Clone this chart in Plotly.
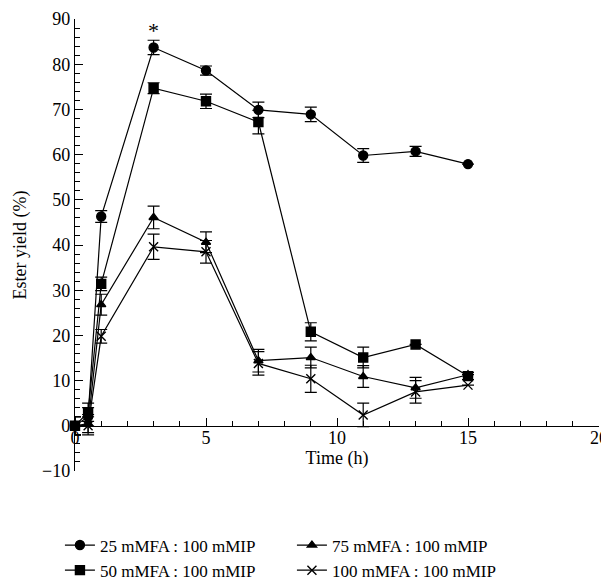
import plotly.graph_objects as go

time_h = [0, 0.5, 1, 3, 5, 7, 9, 11, 13, 15]

labels = ["25 mMFA : 100 mMIP", "75 mMFA : 100 mMIP", "50 mMFA : 100 mMIP", "100 mMFA : 100 mMIP"]
symbols = ["circle", "triangle-up", "square", "x-thin"]

y25 = [0, 2.0, 46.3, 83.7, 78.6, 69.9, 68.9, 59.8, 60.7, 57.9]
e25 = [2.0, 2.0, 1.3, 1.6, 1.0, 1.7, 1.6, 1.5, 1.1, 0]

y75 = [0, 0.5, 26.8, 46.1, 40.6, 14.4, 15.1, 10.9, 8.4, 11.3]
e75 = [2.0, 2.0, 2.3, 2.5, 2.3, 2.5, 2.3, 2.4, 2.3, 0]

y50 = [0, 3.0, 31.4, 74.7, 71.8, 67.2, 20.8, 15.1, 18.0, 11.0]
e50 = [2.0, 2.0, 1.5, 1.2, 1.6, 2.6, 2.0, 2.3, 0, 0.8]

y100 = [0, 0.0, 19.8, 39.6, 38.5, 13.8, 10.4, 2.4, 7.5, 9.0]
e100 = [2.0, 2.0, 1.5, 2.8, 2.5, 2.6, 3.0, 2.6, 2.5, 0]

series_y = [y25, y75, y50, y100]
series_e = [e25, e75, e50, e100]
marker_sizes = [9, 8, 9, 9]

font_family = "Liberation Serif, Times New Roman, serif"
fs = 18

fig = go.Figure()
for name, sym, ys, es, ms in zip(labels, symbols, series_y, series_e, marker_sizes):
    fig.add_trace(go.Scatter(
        x=time_h, y=ys, name=name, mode="lines+markers",
        line=dict(color="black", width=1.2),
        marker=dict(symbol=sym, size=ms, color="black",
                    line=dict(color="black", width=1.4)),
        error_y=dict(type="data", array=es, visible=True, color="black",
                     thickness=1.2, width=6),
        cliponaxis=False,
    ))

# significance asterisk above the 25 mMFA peak
fig.add_annotation(x=time_h[3], y=y25[3] + e25[3], text="*", showarrow=False,
                   yanchor="bottom", yshift=-5,
                   font=dict(size=22, color="black", family=font_family))

fig.update_layout(
    width=601, height=574,
    margin=dict(l=67, r=10, t=11, b=111, autoexpand=False),
    paper_bgcolor="white", plot_bgcolor="white",
    font=dict(family=font_family, size=fs, color="black"),
    showlegend=True,
    legend=dict(orientation="h", x=0.414, xanchor="center", y=-0.125, yanchor="top",
                entrywidth=187, font=dict(size=17, family=font_family),
                itemwidth=30, tracegroupgap=0),
)

fig.update_xaxes(
    range=[0, 20], dtick=5, tick0=0,
    showline=True, linecolor="black", linewidth=1.3,
    ticks="inside", ticklen=8, tickwidth=1.3, tickcolor="black",
    minor=dict(ticks="inside", ticklen=5, dtick=1, tickwidth=1, tickcolor="black"),
    showgrid=False, zeroline=False,
    anchor="free", position=0.1, automargin=False,
    ticklabelstandoff=-5,
    title=dict(text="Time (h)", standoff=0, font=dict(size=fs)),
    tickfont=dict(size=fs),
)
fig.update_yaxes(
    range=[-10, 90], dtick=10, tick0=0,
    showline=True, linecolor="black", linewidth=1.3,
    ticks="inside", ticklen=8, tickwidth=1.3, tickcolor="black",
    minor=dict(ticks="inside", ticklen=5, dtick=2, tickwidth=1, tickcolor="black"),
    showgrid=False, zeroline=False, automargin=False,
    title=dict(text="Ester yield (%)", standoff=10, font=dict(size=fs)),
    tickfont=dict(size=fs),
)

fig.write_html("out.html")
